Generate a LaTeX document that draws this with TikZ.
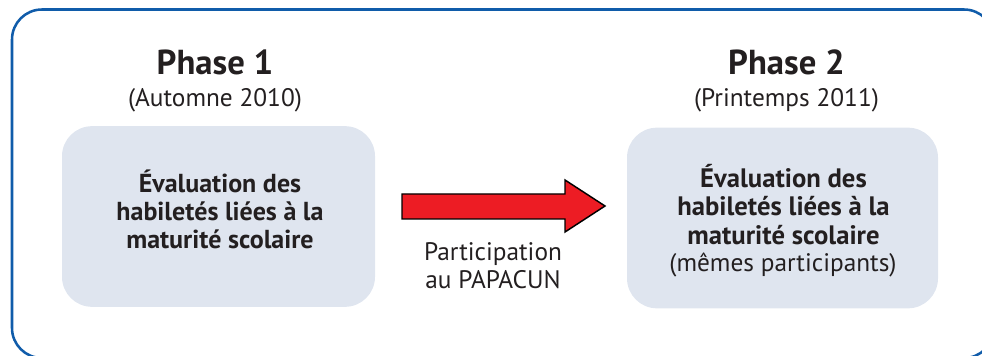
\documentclass[tikz,border=0pt]{standalone}
\usepackage{fontspec}
\setmainfont{PT Sans}
\definecolor{frameblue}{RGB}{16,92,170}
\definecolor{boxfill}{RGB}{223,229,239}
\definecolor{txt}{RGB}{35,31,32}
\definecolor{arrowred}{RGB}{237,28,36}
\begin{document}
\begin{tikzpicture}[x=0.75pt,y=-0.75pt,
  phase/.style={anchor=base,inner sep=0pt,text=txt,font=\bfseries\fontsize{26}{30}\selectfont},
  period/.style={anchor=base,inner sep=0pt,text=txt,font=\fontsize{19}{22}\selectfont},
  boldline/.style={anchor=base,inner sep=0pt,text=txt,font=\bfseries\fontsize{19.5}{22}\selectfont},
  boldlineR/.style={anchor=base,inner sep=0pt,text=txt,font=\bfseries\fontsize{20}{22}\selectfont},
  plainline/.style={anchor=base,inner sep=0pt,text=txt,font=\fontsize{19}{22}\selectfont},
  phasebox/.style={fill=boxfill,draw=none,inner sep=0pt,rounded corners=22.5pt,minimum height=135.5pt}]
\useasboundingbox (0,0) rectangle (982,356);
\clip (0,0) rectangle (982,356);
\draw[frameblue,line width=1.9pt,rounded corners=22.5pt] (12,9.5) rectangle (994,358);
% boxes
\node[phasebox,minimum width=234.75pt] (b1) at (218.5,216.5) {};
\node[phasebox,minimum width=233.25pt] (b2) at (782.5,218) {};
% headings
\node[phase] (h1) at (215,75) {Phase 1};
\node[period] (p1) at (215,107) {(Automne 2010)};
\node[phase] (h2) at (786.5,75) {Phase 2};
\node[period] (p2) at (786.5,107) {(Printemps 2011)};
% left box text
\node[boldline] (l1) at (220,193) {Évaluation des};
\node[boldline] (l2) at (220,220.5) {habiletés liées à la};
\node[boldline] (l3) at (220,248) {maturité scolaire};
% right box text
\node[boldlineR] (r1) at (783.5,188) {Évaluation des};
\node[boldlineR] (r2) at (783.5,216) {habiletés liées à la};
\node[boldlineR] (r3) at (783.5,244.5) {maturité scolaire};
\node[plainline] (r4) at (783,272) {(mêmes participants)};
% arrow
\draw[fill=arrowred,draw=black,line width=1.1pt,line join=miter]
  (402,194) -- (565,194) -- (565,180) -- (605,206) -- (565,232) -- (565,219) -- (402,219) -- cycle;
\node[plainline] (a1) at (493,261) {Participation};
\node[plainline] (a2) at (493,288) {au PAPACUN};
\end{tikzpicture}
\end{document}
